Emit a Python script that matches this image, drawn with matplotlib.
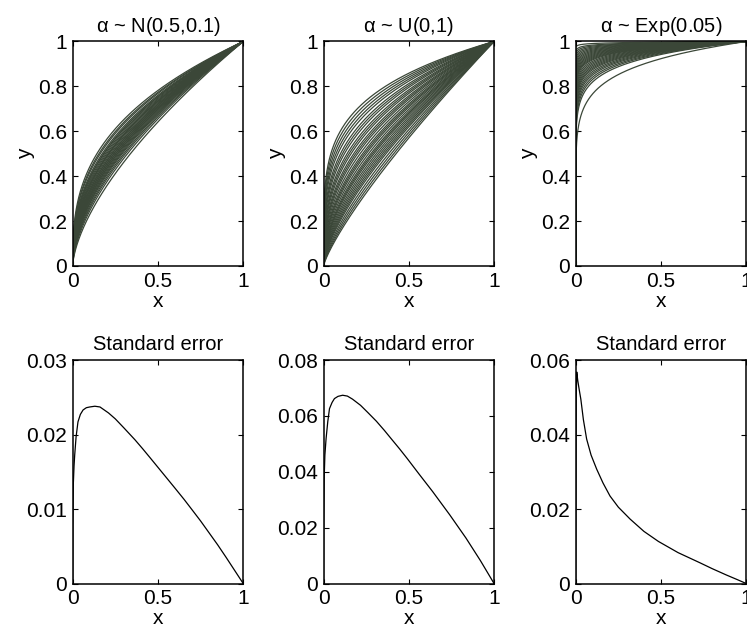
import numpy as np
import matplotlib
matplotlib.use('Agg')
import matplotlib.pyplot as plt
from matplotlib.ticker import FuncFormatter

plt.rcParams['font.family'] = ['Liberation Sans', 'DejaVu Sans']

alpha_normal = [0.355, 0.37, 0.38, 0.395, 0.405, 0.41, 0.42, 0.43, 0.44, 0.445, 0.45,
                0.46, 0.47, 0.475, 0.485, 0.49, 0.50, 0.505, 0.515, 0.52, 0.53, 0.54,
                0.55, 0.56, 0.575, 0.59, 0.61, 0.64]
alpha_uniform = [0.22, 0.235, 0.25, 0.265, 0.28, 0.30, 0.315, 0.33, 0.35, 0.365, 0.38,
                 0.40, 0.415, 0.43, 0.45, 0.47, 0.485, 0.50, 0.52, 0.54, 0.555, 0.57,
                 0.59, 0.61, 0.63, 0.65, 0.67, 0.69, 0.72, 0.75, 0.78, 0.81]
alpha_exp = [0.004, 0.007, 0.009, 0.011, 0.013, 0.015, 0.017, 0.019, 0.021, 0.023, 0.025,
             0.027, 0.029, 0.031, 0.033, 0.035, 0.037, 0.040, 0.043, 0.046, 0.049, 0.052,
             0.055, 0.058, 0.062, 0.066, 0.070, 0.075, 0.080, 0.086, 0.115]
titles_top = [r'$\mathregular{\alpha}$ ~ N(0.5,0.1)', r'$\mathregular{\alpha}$ ~ U(0,1)',
              r'$\mathregular{\alpha}$ ~ Exp(0.05)']

# standard error curves
se_x1 = [0, 0.001, 0.004, 0.008, 0.012, 0.02, 0.031, 0.045, 0.061, 0.08, 0.10, 0.13,
         0.16, 0.21, 0.25, 0.30, 0.365, 0.41, 0.457, 0.55, 0.60, 0.653, 0.70, 0.75, 0.80,
         0.85, 0.90, 1.0]
se_y1 = [0, 0.008, 0.0135, 0.0158, 0.0173, 0.0197, 0.0217, 0.0227, 0.0233, 0.0236,
         0.0237, 0.0238, 0.0237, 0.0229, 0.0221, 0.0209, 0.0193, 0.0181, 0.0168, 0.0142,
         0.0128, 0.0113, 0.0099, 0.0084, 0.0068, 0.0052, 0.0035, 0]
se_x2 = [0, 0.001, 0.004, 0.008, 0.015, 0.025, 0.035, 0.05, 0.064, 0.085, 0.112, 0.14,
         0.17, 0.217, 0.26, 0.31, 0.357, 0.40, 0.446, 0.49, 0.56, 0.64, 0.74, 0.835, 0.92, 1.0]
se_y2 = [0, 0.022, 0.038, 0.046, 0.0519, 0.058, 0.0626, 0.0648, 0.0662, 0.067, 0.0674,
         0.0671, 0.066, 0.0638, 0.0612, 0.0581, 0.0548, 0.0516, 0.0482, 0.0448, 0.0392,
         0.0329, 0.0246, 0.0163, 0.0082, 0]
se_x3 = [0, 0.003, 0.006, 0.012, 0.02, 0.03, 0.045, 0.064, 0.09, 0.123, 0.16, 0.201,
         0.25, 0.319, 0.40, 0.485, 0.60, 0.727, 0.80, 0.883, 0.95, 1.0]
se_y3 = [0, 0.05, 0.0568, 0.0545, 0.0522, 0.0495, 0.044, 0.0388, 0.0345, 0.0307, 0.027,
         0.0235, 0.0205, 0.0173, 0.014, 0.0113, 0.0083, 0.0056, 0.0040, 0.0023, 0.0010, 0]
se_ylims = [0.03, 0.08, 0.06]
se_yticks = [[0, 0.01, 0.02, 0.03], [0, 0.02, 0.04, 0.06, 0.08], [0, 0.02, 0.04, 0.06]]

fig = plt.figure(figsize=(7.47, 6.36), dpi=100)
lefts = [0.0973, 0.4331, 0.7707]
w = 0.2283
fmt = FuncFormatter(lambda v, p: '%g' % v)
xx = np.linspace(0, 1, 2001)


def style(ax):
    ax.tick_params(direction='in', top=True, right=True, length=3.5, width=0.8,
                   labelsize=15, pad=4)
    for s in ax.spines.values():
        s.set_linewidth(1.1)
    ax.xaxis.set_major_formatter(fmt)
    ax.yaxis.set_major_formatter(fmt)
    ax.set_xlim(0, 1)
    ax.set_xticks([0, 0.5, 1])
    ax.set_xlabel('x', fontsize=15, labelpad=1)


for i, alphas in enumerate([alpha_normal, alpha_uniform, alpha_exp]):
    ax = fig.add_axes([lefts[i], 0.5818, w, 0.353])
    for a in alphas:
        ax.plot(xx, xx ** a, color='#3b4738', lw=0.9)
    style(ax)
    ax.set_ylim(0, 1)
    ax.set_yticks([0, 0.2, 0.4, 0.6, 0.8, 1])
    ax.set_ylabel('y', fontsize=15, labelpad=2)
    ax.set_title(titles_top[i], fontsize=14.5, pad=7)

for i, (sx, sy) in enumerate([(se_x1, se_y1), (se_x2, se_y2), (se_x3, se_y3)]):
    ax = fig.add_axes([lefts[i], 0.0825, w, 0.3514])
    ax.plot(sx, sy, color='black', lw=0.9)
    style(ax)
    ax.set_ylim(0, se_ylims[i])
    ax.set_yticks(se_yticks[i])
    ax.set_title('Standard error', fontsize=14.5, pad=7)

fig.savefig('out.png', dpi=100)
